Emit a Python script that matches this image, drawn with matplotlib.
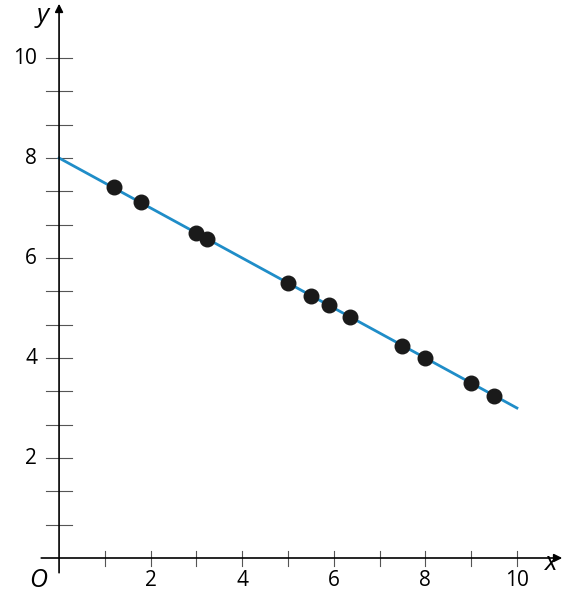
import numpy as np
import matplotlib.pyplot as plt

xs = [1.2, 1.8, 3.0, 3.23, 5.0, 5.5, 5.9, 6.35, 7.5, 8.0, 9.0, 9.5]
ys = [7.42, 7.12, 6.5, 6.38, 5.5, 5.24, 5.06, 4.82, 4.24, 4.0, 3.5, 3.24]
line_x = [0, 10]
line_y = [8, 3]
x_labels = [2, 4, 6, 8, 10]
y_labels = [2, 4, 6, 8, 10]

fig = plt.figure(figsize=(5.65, 5.98), dpi=100)
ax = fig.add_axes([0, 0, 1, 1])
ax.set_xlim(-1.29, 11.05)
ax.set_ylim(-0.8, 11.16)
ax.axis('off')

# axes with arrows
ax.annotate("", xy=(11.05, 0), xytext=(-0.45, 0),
            arrowprops=dict(arrowstyle="-|>", color='k', lw=1.2, mutation_scale=12))
ax.annotate("", xy=(0, 11.14), xytext=(0, -0.35),
            arrowprops=dict(arrowstyle="-|>", color='k', lw=1.2, mutation_scale=12))

for t in range(1, 11):
    ax.plot([t, t], [-0.15, 0.15], color='#555555', lw=0.8)
for t in np.arange(2/3, 10.01, 2/3):
    ax.plot([-0.28, 0.28], [t, t], color='#555555', lw=0.8)

for v in x_labels:
    ax.text(v, -0.25, str(v), ha='center', va='top', fontsize=15, family='Open Sans')
for v in y_labels:
    ax.text(-0.48, v, str(v), ha='right', va='center', fontsize=15, family='Open Sans')
ax.text(-0.45, -0.2, "O", ha='center', va='top', fontsize=18, style='italic', family='Open Sans')
ax.text(10.75, -0.12, "x", ha='center', va='center', fontsize=19, style='italic', family='Open Sans')
ax.text(-0.35, 10.85, "y", ha='center', va='center', fontsize=19, style='italic', family='Open Sans')

ax.plot(line_x, line_y, color='#1f8dc8', lw=2)
ax.scatter(xs, ys, s=110, color='#1a1a1a', zorder=3)

fig.savefig("out.png")
